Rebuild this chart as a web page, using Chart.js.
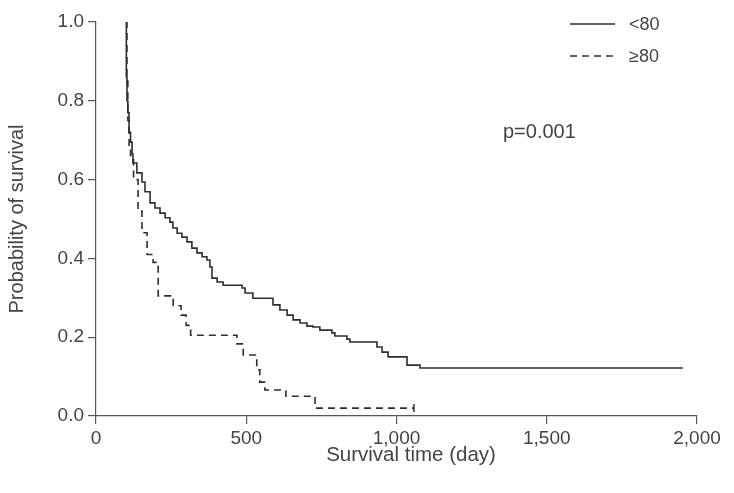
<!DOCTYPE html>
<html>
<head>
<meta charset="utf-8">
<script src="https://cdn.jsdelivr.net/npm/chart.js@4/dist/chart.umd.min.js"></script>
<style>
  html, body { margin: 0; padding: 0; background: #fff; }
  #wrap { position: relative; width: 734px; height: 493px; }
</style>
</head>
<body>
<div id="wrap"><canvas id="c" width="734" height="493"></canvas></div>
<script>
// ---- Data (Kaplan-Meier steps: day, survival after drop) ----
const under80Days = [100, 101, 103, 106, 110, 115, 120, 123, 136, 153, 163, 180, 196, 213, 230, 246, 256, 270, 286, 303, 319, 336, 353, 369, 379, 386, 403, 423, 486, 496, 522, 589, 612, 636, 656, 679, 702, 722, 745, 785, 795, 835, 845, 935, 952, 972, 1035, 1078, 1953];
const under80Surv = [1.0, 0.86, 0.80, 0.77, 0.72, 0.695, 0.665, 0.642, 0.617, 0.594, 0.569, 0.541, 0.528, 0.515, 0.503, 0.492, 0.477, 0.464, 0.454, 0.442, 0.426, 0.414, 0.404, 0.396, 0.378, 0.350, 0.340, 0.332, 0.325, 0.312, 0.299, 0.282, 0.269, 0.256, 0.244, 0.236, 0.228, 0.226, 0.218, 0.211, 0.203, 0.195, 0.188, 0.175, 0.162, 0.150, 0.129, 0.122, 0.122];

const over80Days = [100, 103, 106, 110, 115, 125, 140, 153, 170, 190, 207, 257, 283, 300, 315, 469, 490, 535, 545, 562, 632, 729, 1058];
const over80Surv = [1.0, 0.85, 0.75, 0.68, 0.65, 0.60, 0.52, 0.465, 0.41, 0.39, 0.305, 0.28, 0.256, 0.23, 0.205, 0.183, 0.155, 0.117, 0.086, 0.066, 0.05, 0.02, 0.02];

const seriesLabels = ['<80', '\u226580'];
const xTickValues = [0, 500, 1000, 1500, 2000];
const yTickValues = [0.0, 0.2, 0.4, 0.6, 0.8, 1.0];
const xAxisTitle = 'Survival time (day)';
const yAxisTitle = 'Probability of survival';
const pValueText = 'p=0.001';

const toPoints = (xs, ys) => xs.map((x, i) => ({ x: x, y: ys[i] }));

const FONT = '"Liberation Sans", Arial, Helvetica, sans-serif';
const TEXT = '#444444';
const LINE = '#2e2e2e';
const AXIS = '#555555';

const overlay = {
  id: 'overlay',
  afterDraw(chart) {
    const ctx = chart.ctx;
    ctx.save();
    const ds = chart.data.datasets;
    const rows = [24, 56];
    ds.forEach((d, i) => {
      ctx.beginPath();
      ctx.strokeStyle = d.borderColor;
      ctx.lineWidth = d.borderWidth;
      ctx.setLineDash(d.borderDash || []);
      ctx.moveTo(570, rows[i]);
      ctx.lineTo(615, rows[i]);
      ctx.stroke();
      ctx.setLineDash([]);
      ctx.fillStyle = TEXT;
      ctx.font = '18px ' + FONT;
      ctx.textBaseline = 'middle';
      ctx.textAlign = 'left';
      ctx.fillText(d.label, 629, rows[i] + 1);
    });
    ctx.fillStyle = TEXT;
    ctx.font = '20px ' + FONT;
    ctx.textBaseline = 'middle';
    ctx.textAlign = 'left';
    ctx.fillText(pValueText, 503, 132);
    // x-axis title (reference places it slightly right of the axis centre)
    ctx.font = '20.5px ' + FONT;
    ctx.textAlign = 'center';
    ctx.fillText(xAxisTitle, 411, 455);
    ctx.restore();
  }
};

new Chart(document.getElementById('c'), {
  type: 'line',
  data: {
    datasets: [
      {
        label: seriesLabels[0],
        data: toPoints(under80Days, under80Surv),
        stepped: true,
        borderColor: LINE,
        borderWidth: 1.6,
        pointRadius: 0,
        fill: false
      },
      {
        label: seriesLabels[1],
        data: toPoints(over80Days, over80Surv),
        stepped: true,
        borderColor: LINE,
        borderWidth: 1.6,
        borderDash: [7, 5],
        pointStyle: 'line',
        rotation: 90,
        pointRadius: over80Days.map((d, i) => i === over80Days.length - 1 ? 4 : 0),
        pointBorderColor: LINE,
        pointBorderWidth: 1.5,
        fill: false
      }
    ]
  },
  options: {
    responsive: false,
    animation: false,
    devicePixelRatio: 1,
    layout: { padding: { left: 0, right: 37, top: 22, bottom: 0 } },
    plugins: { legend: { display: false }, tooltip: { enabled: false } },
    scales: {
      x: {
        type: 'linear',
        min: 0, max: 2000,
        afterBuildTicks: (s) => { s.ticks = xTickValues.map(v => ({ value: v })); },
        afterFit: (s) => { s.height = 77; },
        grid: { display: true, drawOnChartArea: false, drawTicks: true, tickLength: 8, color: AXIS, lineWidth: 1.2 },
        border: { display: true, color: AXIS, width: 1.2 },
        ticks: {
          color: TEXT, font: { family: FONT, size: 19 }, padding: 3, maxRotation: 0,
          callback: (v) => Number(v).toLocaleString('en-US')
        },
        title: { display: false, text: xAxisTitle }
      },
      y: {
        type: 'linear',
        min: 0, max: 1,
        afterBuildTicks: (s) => { s.ticks = yTickValues.map(v => ({ value: v })); },
        afterFit: (s) => { s.width = 96; },
        grid: { display: true, drawOnChartArea: false, drawTicks: true, tickLength: 8, color: AXIS, lineWidth: 1.2 },
        border: { display: true, color: AXIS, width: 1.2 },
        ticks: {
          color: TEXT, font: { family: FONT, size: 19 }, padding: 4,
          callback: (v) => Number(v).toFixed(1)
        },
        title: { display: true, text: yAxisTitle, color: TEXT, font: { family: FONT, size: 20 }, padding: { top: 5, bottom: 0 } }
      }
    }
  },
  plugins: [overlay]
});
</script>
</body>
</html>
